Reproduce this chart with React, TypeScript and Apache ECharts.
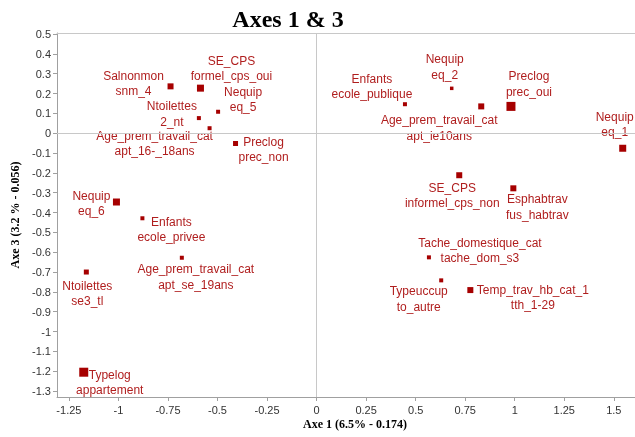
import React, { useEffect, useRef } from "react";
import * as echarts from "echarts";

// Variable name (first line) and modality (second line) of each point
const varNames = [
  "Salnonmon", "SE_CPS", "Nequip", "Ntoilettes", "Age_prem_travail_cat", "Preclog",
  "Nequip", "Enfants", "Age_prem_travail_cat", "Ntoilettes", "Typelog",
  "Enfants", "Nequip", "Age_prem_travail_cat", "Preclog", "Nequip",
  "SE_CPS", "Esphabtrav", "Tache_domestique_cat", "Typeuccup", "Temp_trav_hb_cat_1",
];
const modNames = [
  "snm_4", "formel_cps_oui", "eq_5", "2_nt", "apt_16-_18ans", "prec_non",
  "eq_6", "ecole_privee", "apt_se_19ans", "se3_tl", "appartement",
  "ecole_publique", "eq_2", "apt_ie10ans", "prec_oui", "eq_1",
  "informel_cps_non", "fus_habtrav", "tache_dom_s3", "to_autre", "tth_1-29",
];
// Coordinates on axis 1
const axis1 = [
  -0.737, -0.586, -0.497, -0.594, -0.540, -0.409,
  -1.010, -0.879, -0.680, -1.162, -1.175,
  0.446, 0.682, 0.831, 0.981, 1.545,
  0.720, 0.993, 0.567, 0.629, 0.776,
];
// Coordinates on axis 3
const axis3 = [
  0.236, 0.227, 0.108, 0.076, 0.025, -0.052,
  -0.347, -0.429, -0.628, -0.700, -1.205,
  0.146, 0.226, 0.135, 0.135, -0.076,
  -0.212, -0.278, -0.626, -0.742, -0.791,
];
// Relative weight of each modality (drawn as marker size)
const weights = [
  6, 7, 4, 4, 4, 5,
  7, 4, 4, 5, 9,
  4, 3.5, 6, 9, 7,
  6, 6, 4, 4, 6,
];

// Label offsets (layout only) relative to the point, in px
const labelOffsets: [number, number][] = [
  [-37, -3], [31, -19.5], [25, -12.5], [-27, -4], [-55, 15.5], [28, 6],
  [-25, 1.5], [29, 11], [14, 19.5], [1, 21.5], [26, 10.5],
  [-33, -17.5], [-7, -21.5], [-42, 21.5], [18, -22.5], [-8, -24],
  [-7, 20.5], [24, 18.5], [51, -7], [-22.5, 18.5], [62.5, 7.5],
];

const MARK = "#a60000";
const LABEL = "#b01e1e";

export default function App() {
  const ref = useRef<HTMLDivElement>(null);
  useEffect(() => {
    if (!ref.current) return;
    const chart = echarts.init(ref.current, null, { renderer: "svg" });
    const data = axis1.map((x, i) => {
      const s = weights[i];
      const [dx, dy] = labelOffsets[i];
      return {
        value: [x, axis3[i]],
        name: varNames[i] + "\n" + modNames[i],
        symbolSize: s,
        label: { position: [s / 2 + dx, s / 2 + dy] },
      };
    });
    const tickFont = { fontFamily: "Liberation Sans", fontSize: 11, color: "#333" };
    const nameFont = { fontFamily: "Liberation Serif", fontWeight: "bold", fontSize: 12, fill: "#000" };
    chart.setOption({
      animation: false,
      grid: { left: 57, top: 33, right: 0, bottom: 40, containLabel: false },
      graphic: [
        {
          type: "text",
          x: 288,
          y: 18.6,
          style: {
            text: "Axes 1 & 3",
            fontFamily: "Liberation Serif",
            fontWeight: "bold",
            fontSize: 24,
            fill: "#000",
            textAlign: "center",
            textVerticalAlign: "middle",
          },
        },
        {
          type: "text",
          x: 355,
          y: 424,
          style: { ...nameFont, text: "Axe 1 (6.5% - 0.174)", textAlign: "center", textVerticalAlign: "middle" },
        },
      ],
      xAxis: [
        {
          type: "value",
          min: -1.31,
          max: 1.607,
          splitNumber: 12,
          minInterval: 0.25,
          maxInterval: 0.25,
          axisLine: { show: true, onZero: false, lineStyle: { color: "#a0a0a0" } },
          axisTick: { show: true, length: 4, lineStyle: { color: "#a0a0a0" } },
          axisLabel: { ...tickFont, margin: 7, showMinLabel: false, showMaxLabel: false },
          splitLine: { show: false },
        },
        {
          type: "value",
          position: "top",
          min: -1.31,
          max: 1.607,
          axisLine: { show: true, onZero: false, lineStyle: { color: "#c8c8c8" } },
          axisTick: { show: false },
          axisLabel: { show: false },
          splitLine: { show: false },
        },
      ],
      yAxis: {
        type: "value",
        min: -1.33,
        max: 0.505,
        splitNumber: 18,
        minInterval: 0.1,
        maxInterval: 0.1,
        name: "Axe 3 (3.2 % - 0.056)",
        nameLocation: "middle",
        nameGap: 35,
        nameTextStyle: { fontFamily: "Liberation Serif", fontWeight: "bold", fontSize: 12, color: "#000" },
        axisLine: { show: true, onZero: false, lineStyle: { color: "#a0a0a0" } },
        axisTick: { show: true, length: 4, lineStyle: { color: "#a0a0a0" } },
        axisLabel: { ...tickFont, margin: 6, showMinLabel: false, showMaxLabel: false },
        splitLine: { show: false },
      },
      series: [
        {
          type: "scatter",
          symbol: "rect",
          data,
          itemStyle: { color: MARK, opacity: 1 },
          label: {
            show: true,
            formatter: "{b}",
            align: "center",
            verticalAlign: "middle",
            fontFamily: "Liberation Sans",
            fontSize: 12,
            lineHeight: 15.5,
            color: LABEL,
          },
          labelLayout: { hideOverlap: false },
          markLine: {
            silent: true,
            symbol: "none",
            label: { show: false },
            lineStyle: { color: "#c8c8c8", type: "solid", width: 1 },
            data: [{ xAxis: 0 }, { yAxis: 0 }],
          },
          z: 3,
        },
      ],
    });
    return () => chart.dispose();
  }, []);
  return (
    <div
      ref={ref}
      style={{ position: "fixed", left: 0, top: 0, width: 635, height: 437 }}
    />
  );
}
